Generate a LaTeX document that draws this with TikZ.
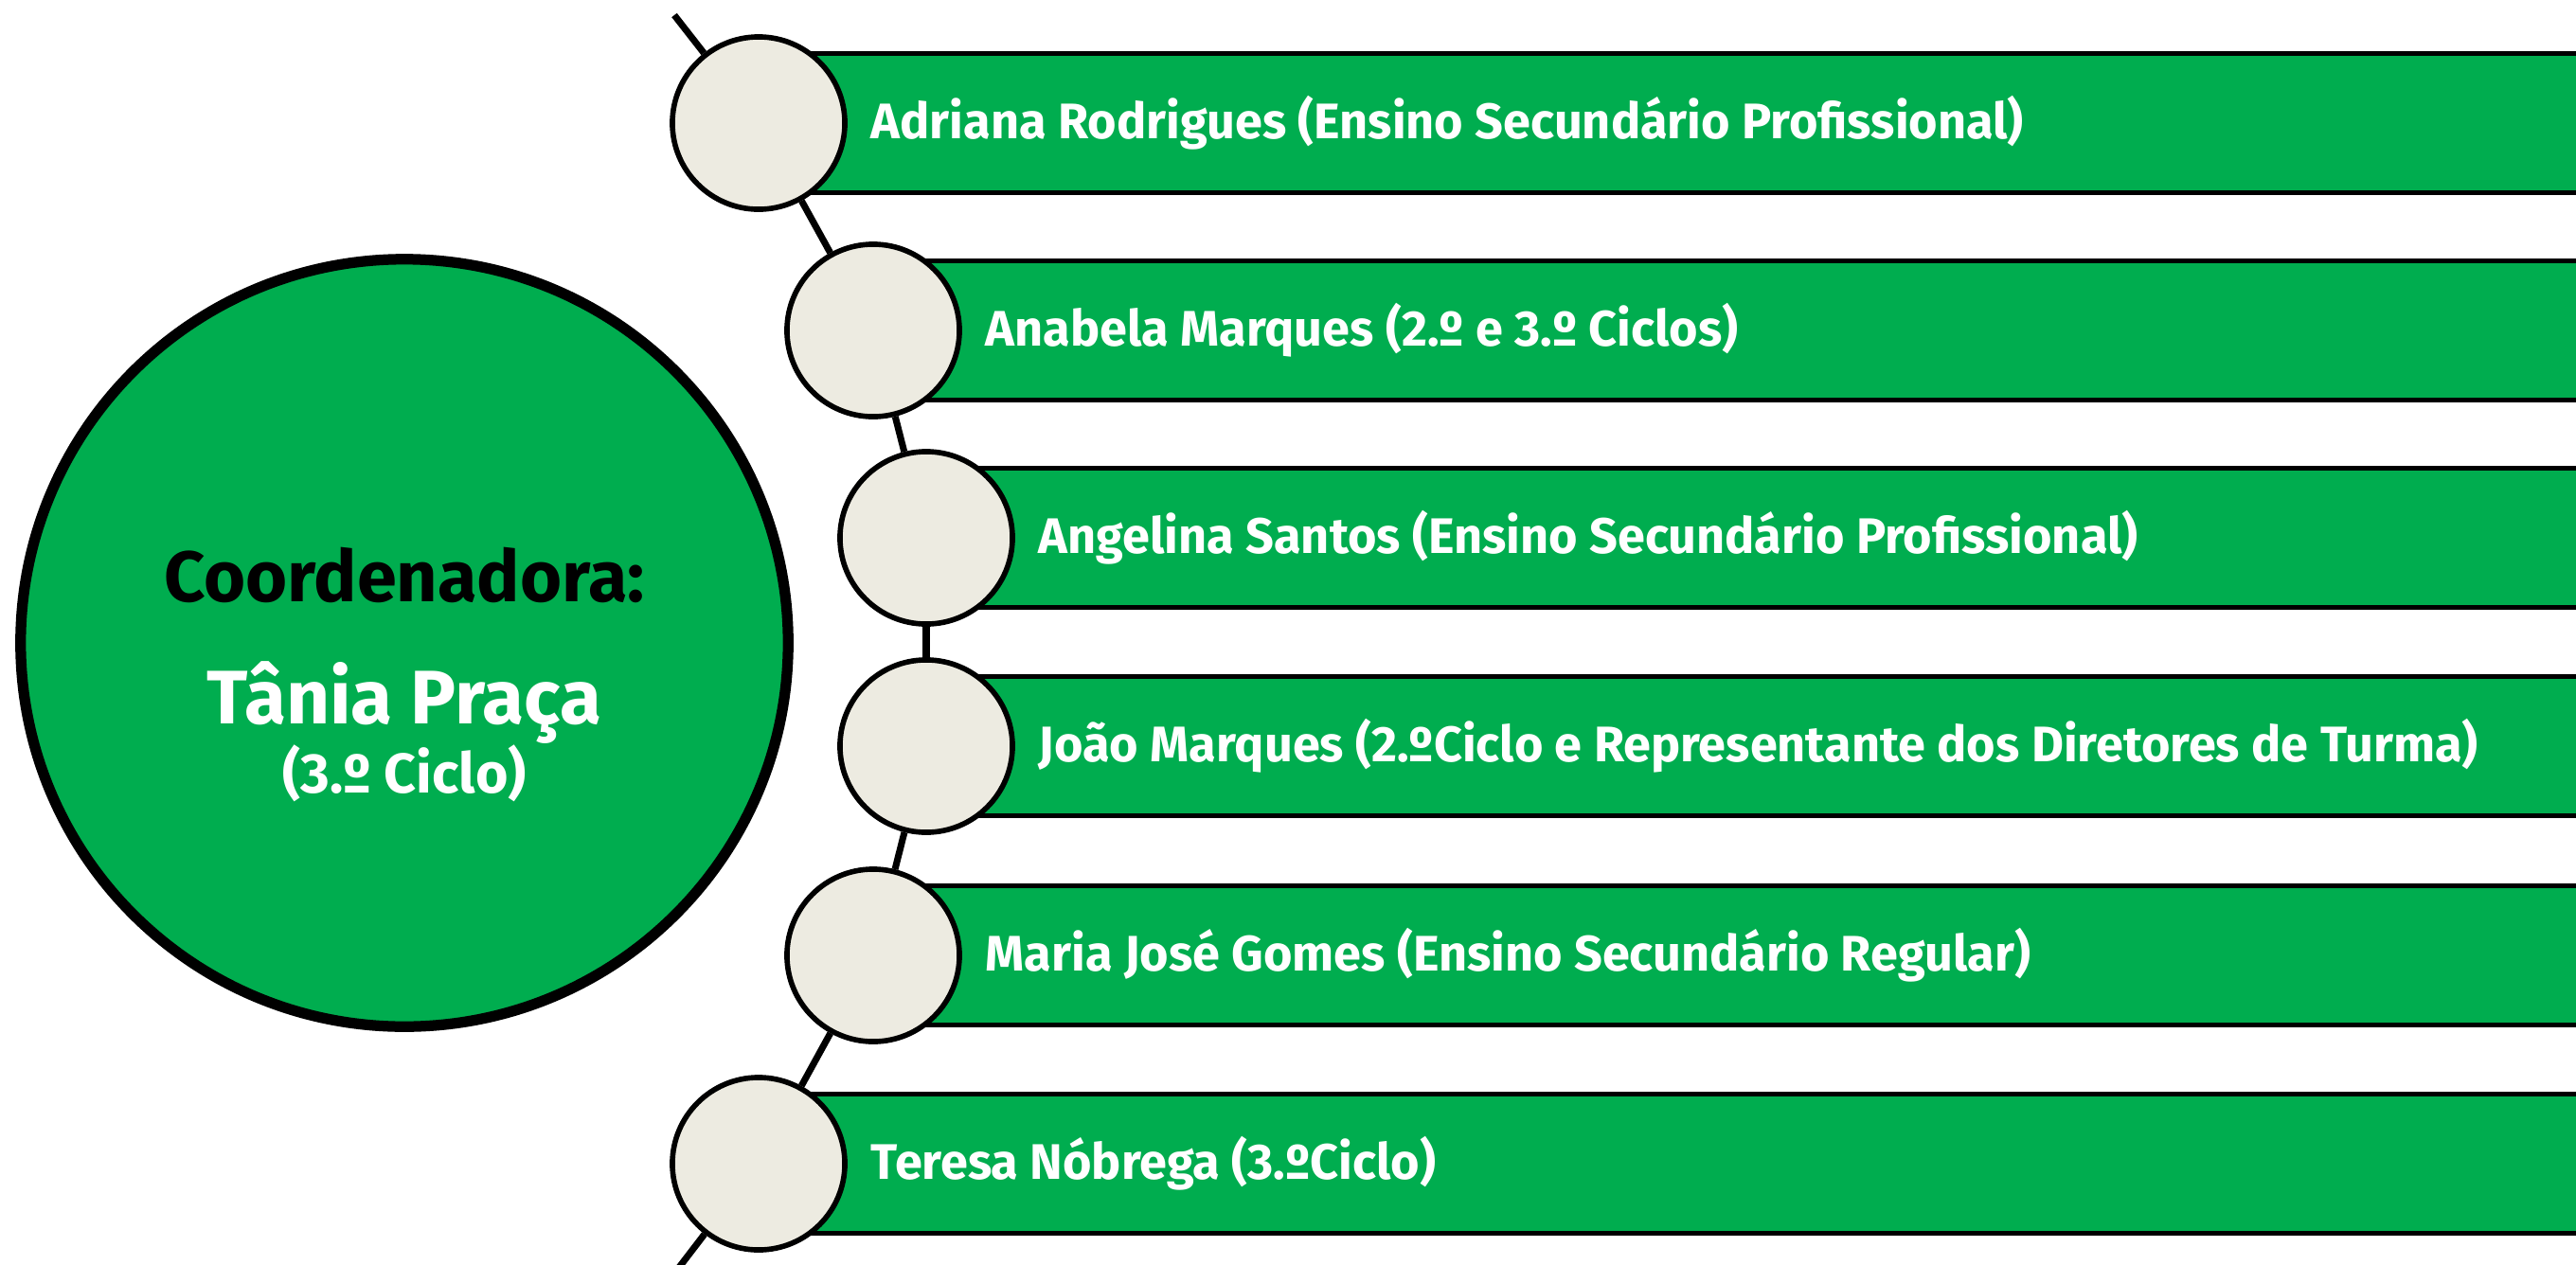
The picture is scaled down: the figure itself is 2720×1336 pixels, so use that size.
\documentclass[tikz,border=0pt]{standalone}
\usepackage{fontspec}
\usetikzlibrary{calc}
\setmainfont{Fira Sans}
\definecolor{bargreen}{HTML}{00AD4F}
\definecolor{beadfill}{HTML}{EDEBE1}
\tikzset{
  px/.style={x=0.01cm,y=-0.01cm},
  bead/.style={circle, draw=black, fill=beadfill, line width=1.6pt, minimum size=1.82cm, inner sep=0pt},
  barbox/.style={draw=black, fill=bargreen, line width=1.5pt},
  bartext/.style={anchor=west, text=white, font=\bfseries\fontsize{15}{18}\selectfont, inner sep=0pt},
  spine/.style={draw=black, line width=2pt},
  bigdot/.style={circle, draw=black, fill=bargreen, line width=3.2pt, minimum size=8.1cm, inner sep=0pt}
}
\newcommand{\bt}[1]{\scalebox{0.99}[1]{#1}}
\begin{document}
\begin{tikzpicture}[px]
\useasboundingbox (0,0) rectangle (2720,1336);
\clip (0,0) rectangle (2720,1336);
% bead positions
\coordinate (p1) at (801,130);
\coordinate (p2) at (922,349);
\coordinate (p3) at (978,568);
\coordinate (p4) at (978,788);
\coordinate (p5) at (922,1009);
\coordinate (p6) at (801,1229);
\coordinate (top) at (712,16);
\coordinate (bot) at (712,1345);
% bars
\foreach \i in {1,...,6}{
  \path[barbox] ($(p\i)+(0,-73.5)$) rectangle ($(p\i)+(2100,73.5)$);
}
% beads
\foreach \i in {1,...,6}{
  \node[bead] (c\i) at (p\i) {};
}
% spine
\draw[spine] (top) -- (c1);
\draw[spine] (c1) -- (c2);
\draw[spine] (c2) -- (c3);
\draw[spine] (c3) -- (c4);
\draw[spine] (c4) -- (c5);
\draw[spine] (c5) -- (c6);
\draw[spine] (c6) -- (bot);
% texts
\node[bartext] (t1) at ($(p1)+(118,0)$) {\bt{Adriana Rodrigues (Ensino Secundário Profissional)}};
\node[bartext] (t2) at ($(p2)+(118,0)$) {\bt{Anabela Marques (2.º e 3.º Ciclos)}};
\node[bartext] (t3) at ($(p3)+(118,0)$) {\bt{Angelina Santos (Ensino Secundário Profissional)}};
\node[bartext] (t4) at ($(p4)+(118,0)$) {\bt{João Marques (2.ºCiclo e Representante dos Diretores de Turma)}};
\node[bartext] (t5) at ($(p5)+(118,0)$) {\bt{Maria José Gomes (Ensino Secundário Regular)}};
\node[bartext] (t6) at ($(p6)+(118,0)$) {\bt{Teresa Nóbrega (3.ºCiclo)}};
% coordinator
\node[bigdot] (coord) at (427,679) {};
\node[font=\bfseries\fontsize{21.5}{24}\selectfont, text=black] (ct) at (427,607) {Coordenadora:};
\node[font=\bfseries\fontsize{22.8}{26}\selectfont, text=white] (cn) at (427,742) {Tânia Praça};
\node[font=\bfseries\fontsize{16.8}{20}\selectfont, text=white] (cc) at (427,817) {(3.º Ciclo)};
\end{tikzpicture}
\end{document}
